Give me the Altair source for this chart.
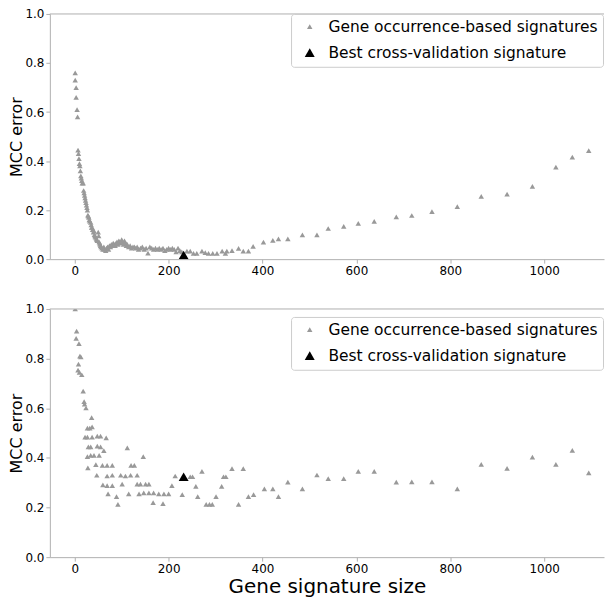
import altair as alt
import pandas as pd

LAB_A = "Gene occurrence-based signatures"
LAB_B = "Best cross-validation signature"

# ---- top panel ----
top_x = [1, 1, 3, 3, 5, 6, 7, 8, 9, 10, 11, 12, 13, 14, 15, 16, 18, 19, 20, 21, 22, 23, 24, 25, 26, 27, 28, 29, 30,
         31, 32, 34, 35, 36, 37, 38, 40, 41, 42, 43, 44, 46, 47, 48, 50, 51, 52, 53, 54, 55, 56, 58, 60, 62, 64, 66,
         68, 70, 72, 74, 76, 78, 80, 82, 84, 86, 88, 90, 92, 94, 96, 98, 100, 102, 104, 106, 108, 110, 112, 115, 118,
         121, 124, 127, 130, 133, 136, 140, 144, 148, 152, 156, 160, 164, 168, 172, 176, 180, 184, 188, 192, 196, 200,
         204, 208, 212, 216, 220, 224, 228, 239, 246, 253, 260, 271, 278, 285, 294, 303, 314, 321, 324, 335, 349, 359,
         370, 380, 402, 422, 434, 454, 485, 516, 540, 573, 604, 638, 685, 718, 761, 815, 866, 921, 975, 1025, 1060, 1095]
top_y = [0.76, 0.73, 0.70, 0.66, 0.61, 0.58, 0.445, 0.43, 0.41, 0.39, 0.38, 0.36, 0.34, 0.33, 0.32, 0.31, 0.31, 0.28,
         0.27, 0.26, 0.25, 0.24, 0.23, 0.22, 0.21, 0.20, 0.18, 0.175, 0.17, 0.16, 0.155, 0.15, 0.14, 0.13, 0.13, 0.12,
         0.11, 0.115, 0.10, 0.095, 0.09, 0.085, 0.08, 0.075, 0.11, 0.095, 0.07, 0.065, 0.06, 0.055, 0.05, 0.045, 0.04,
         0.05, 0.04, 0.035, 0.045, 0.05, 0.04, 0.055, 0.05, 0.06, 0.055, 0.065, 0.06, 0.055, 0.065, 0.07, 0.06, 0.075,
         0.07, 0.065, 0.08, 0.07, 0.06, 0.075, 0.065, 0.055, 0.06, 0.05, 0.055, 0.045, 0.05, 0.05, 0.045, 0.05, 0.04,
         0.045, 0.05, 0.04, 0.045, 0.025, 0.05, 0.045, 0.04, 0.045, 0.04, 0.045, 0.04, 0.045, 0.035, 0.04, 0.045, 0.04,
         0.045, 0.04, 0.03, 0.045, 0.035, 0.03, 0.033, 0.033, 0.024, 0.024, 0.033, 0.027, 0.024, 0.024, 0.024, 0.033,
         0.024, 0.033, 0.035, 0.044, 0.033, 0.033, 0.052, 0.069, 0.077, 0.083, 0.083, 0.099, 0.099, 0.125, 0.134,
         0.146, 0.154, 0.172, 0.178, 0.194, 0.214, 0.256, 0.265, 0.297, 0.375, 0.416, 0.443]
top_best_x = [232]
top_best_y = [0.017]

# ---- bottom panel ----
bot_x = [1, 4, 3, 9, 11, 13, 8, 7, 10, 15, 18, 20, 21, 24, 36, 27, 32, 37, 22, 27, 37, 48, 55, 67, 29, 34, 48, 55, 62,
         112, 27, 34, 41, 52, 146, 28, 45, 59, 69, 80, 120, 127, 47, 69, 80, 98, 108, 119, 133, 214, 246, 251, 271,
         317, 322, 335, 359, 60, 69, 80, 101, 133, 140, 151, 158, 207, 258, 313, 71, 89, 115, 137, 147, 158, 168, 179,
         190, 200, 229, 262, 301, 92, 167, 188, 280, 287, 293, 349, 370, 381, 404, 422, 434, 454, 485, 516, 540, 573,
         604, 638, 685, 718, 761, 815, 866, 921, 975, 1025, 1060, 1095]
bot_y = [1.0, 0.911, 0.882, 0.86, 0.81, 0.807, 0.778, 0.754, 0.745, 0.735, 0.669, 0.627, 0.617, 0.601, 0.562, 0.52,
         0.52, 0.525, 0.484, 0.484, 0.484, 0.488, 0.488, 0.481, 0.444, 0.444, 0.447, 0.444, 0.429, 0.44, 0.405, 0.41,
         0.41, 0.41, 0.405, 0.36, 0.373, 0.37, 0.37, 0.37, 0.37, 0.37, 0.33, 0.327, 0.33, 0.33, 0.327, 0.33, 0.33,
         0.327, 0.324, 0.324, 0.346, 0.324, 0.324, 0.357, 0.357, 0.291, 0.288, 0.288, 0.294, 0.294, 0.294, 0.294,
         0.294, 0.288, 0.285, 0.285, 0.255, 0.244, 0.255, 0.255, 0.259, 0.259, 0.259, 0.255, 0.255, 0.255, 0.252,
         0.244, 0.244, 0.213, 0.22, 0.216, 0.213, 0.213, 0.213, 0.213, 0.244, 0.252, 0.275, 0.275, 0.244, 0.302,
         0.275, 0.331, 0.316, 0.316, 0.346, 0.346, 0.302, 0.303, 0.303, 0.275, 0.374, 0.358, 0.403, 0.374, 0.43, 0.34]
bot_best_x = [232]
bot_best_y = [0.324]

x_ticks = [0, 200, 400, 600, 800, 1000]
y_ticks = [0.0, 0.2, 0.4, 0.6, 0.8, 1.0]

GRAY = "#999999"
SPINE = "#b0b0b0"
W = 556


def panel(xs, ys, bx, by, xtitle, h, leg_y):
    df = pd.DataFrame({
        "size": xs + bx,
        "err": ys + by,
        "kind": [LAB_A] * len(xs) + [LAB_B] * len(bx),
    })
    leg = alt.Legend(
        title=None, orient="none", legendX=242, legendY=leg_y,
        padding=5, symbolOffset=6, labelOffset=11, rowPadding=9,
        labelFontSize=15.5, labelFont="DejaVu Sans", labelColor="#000000", labelLimit=500,
        strokeColor="#cccccc", cornerRadius=3, fillColor="#ffffff",
        symbolType="triangle-up", symbolStrokeWidth=0,
    )
    xaxis_kw = dict(values=x_ticks, format="d", tickSize=4, labelPadding=2)
    if xtitle:
        xaxis = alt.Axis(title=xtitle, titleFontSize=20, titleFontWeight="normal", titlePadding=2, **xaxis_kw)
    else:
        xaxis = alt.Axis(title=None, **xaxis_kw)
    pts = alt.Chart(df).mark_point(shape="triangle-up", filled=True, opacity=1, clip=True, strokeWidth=0).encode(
        x=alt.X("size:Q", scale=alt.Scale(domain=[-53, 1127.5], nice=False, zero=False), axis=xaxis),
        y=alt.Y("err:Q", scale=alt.Scale(domain=[0, 1], nice=False, zero=False),
                axis=alt.Axis(values=y_ticks, format=".1f", tickSize=4, labelPadding=2,
                              title="MCC error", titleFontSize=16, titleFontWeight="normal", titlePadding=0)),
        color=alt.Color("kind:N", scale=alt.Scale(domain=[LAB_A, LAB_B], range=[GRAY, "#000000"]), legend=leg),
        size=alt.Size("kind:N", scale=alt.Scale(domain=[LAB_A, LAB_B], range=[30, 100]), legend=leg),
    )
    top_spine = alt.Chart(pd.DataFrame({"a": [0]})).mark_rule(color=SPINE, strokeWidth=1).encode(
        y=alt.value(0), x=alt.value(0), x2=alt.value(W)
    )
    return alt.layer(pts, top_spine).properties(width=W, height=h)


top = panel(top_x, top_y, top_best_x, top_best_y, None, 246, 0)
bottom = panel(bot_x, bot_y, bot_best_x, bot_best_y, "Gene signature size", 249, 8)

chart = alt.vconcat(top, bottom, spacing=50, bounds="flush").resolve_legend(
    color="independent", size="independent"
).resolve_scale(color="independent", size="independent").properties(
    padding={"top": -1, "left": 0, "right": 0, "bottom": 0}
).configure_view(stroke=None).configure_axis(
    grid=False, domainColor=SPINE, tickColor=SPINE, labelFont="DejaVu Sans", labelFontSize=12,
    labelColor="#000000", titleFont="DejaVu Sans", titleColor="#000000"
)

chart.save("out.html", embed_options={"renderer": "svg", "actions": False})
